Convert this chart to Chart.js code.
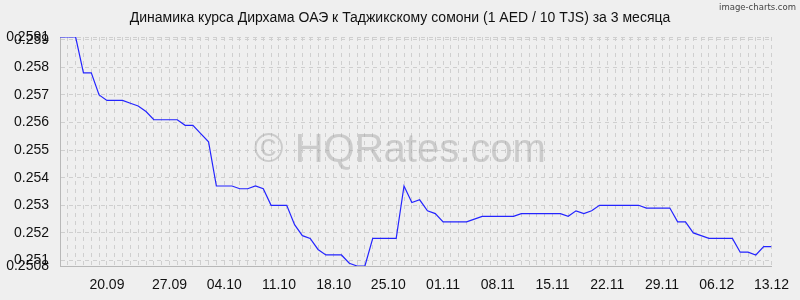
<!DOCTYPE html>
<html>
<head>
<meta charset="utf-8">
<script src="https://cdn.jsdelivr.net/npm/chart.js@4"></script>
<style>
  html, body { margin: 0; padding: 0; background: #efefef; }
  #wrap { width: 800px; height: 300px; }
</style>
</head>
<body>
<div id="wrap"><canvas id="chart" width="800" height="300"></canvas></div>
<script>
// daily AED/TJS rate (1 AED / 10 TJS), 92 points
const rates = [
  0.2591, 0.2591, 0.2591, 0.2578, 0.2578, 0.2570, 0.2568, 0.2568, 0.2568, 0.2567,
  0.2566, 0.2564, 0.2561, 0.2561, 0.2561, 0.2561, 0.2559, 0.2559, 0.2556, 0.2553,
  0.2537, 0.2537, 0.2537, 0.2536, 0.2536, 0.2537, 0.2536, 0.2530, 0.2530, 0.2530,
  0.2523, 0.2519, 0.2518, 0.2514, 0.2512, 0.2512, 0.2512, 0.2509, 0.2508, 0.2508,
  0.2518, 0.2518, 0.2518, 0.2518, 0.2537, 0.2531, 0.2532, 0.2528, 0.2527, 0.2524,
  0.2524, 0.2524, 0.2524, 0.2525, 0.2526, 0.2526, 0.2526, 0.2526, 0.2526, 0.2527,
  0.2527, 0.2527, 0.2527, 0.2527, 0.2527, 0.2526, 0.2528, 0.2527, 0.2528, 0.2530,
  0.2530, 0.2530, 0.2530, 0.2530, 0.2530, 0.2529, 0.2529, 0.2529, 0.2529, 0.2524,
  0.2524, 0.2520, 0.2519, 0.2518, 0.2518, 0.2518, 0.2518, 0.2513, 0.2513, 0.2512,
  0.2515, 0.2515
];

// x tick labels and the day index they sit on
const dateLabels = ["20.09", "27.09", "04.10", "11.10", "18.10", "25.10", "01.11",
                    "08.11", "15.11", "22.11", "29.11", "06.12", "13.12"];
const dateIndex = [6, 14, 21, 28, 35, 42, 49, 56, 63, 70, 77, 84, 91];

const yTicks = [0.2508, 0.251, 0.252, 0.253, 0.254, 0.255, 0.256, 0.257, 0.258, 0.259, 0.2591];

const titleText = "Динамика курса Дирхама ОАЭ к Таджикскому сомони (1 AED / 10 TJS) за 3 месяца";

const gridColor = "#cfcfcf";
const labelFont = { family: "'Liberation Sans', Arial, sans-serif", size: 14 };

const backdrop = {
  id: "backdrop",
  beforeDraw(chart) {
    const ctx = chart.ctx;
    ctx.save();
    ctx.fillStyle = "#efefef";
    ctx.fillRect(0, 0, chart.width, chart.height);
    // title, centred on the whole picture
    ctx.font = "14px 'Liberation Sans', Arial, sans-serif";
    ctx.fillStyle = "#111";
    ctx.textAlign = "center";
    ctx.textBaseline = "middle";
    ctx.fillText(titleText, 400, 18.5);
    ctx.restore();
  },
  beforeDatasetsDraw(chart) {
    const ctx = chart.ctx;
    ctx.save();
    ctx.font = "40px 'Liberation Sans', Arial, sans-serif";
    ctx.fillStyle = "rgba(160,160,160,0.45)";
    ctx.textAlign = "center";
    ctx.textBaseline = "alphabetic";
    ctx.fillText("© HQRates.com", 400, 162);
    ctx.restore();
  },
  afterDraw(chart) {
    const ctx = chart.ctx;
    ctx.save();
    ctx.font = "8.5px 'DejaVu Sans', sans-serif";
    ctx.fillStyle = "#444";
    ctx.textAlign = "right";
    ctx.textBaseline = "top";
    ctx.fillText("image-charts.com", 796, 4);
    ctx.restore();
  },
};

new Chart(document.getElementById("chart").getContext("2d"), {
  type: "line",
  data: {
    datasets: [
      {
        data: rates.map((v, i) => ({ x: i, y: v })),
        borderColor: "#2424ff",
        borderWidth: 1.2,
        pointRadius: 0,
        tension: 0,
        fill: false,
      },
    ],
  },
  options: {
    responsive: false,
    animation: false,
    layout: { padding: { left: 0, right: 21, top: 37, bottom: 0 } },
    plugins: {
      legend: { display: false },
      tooltip: { enabled: false },
      title: { display: false },
    },
    scales: {
      x: {
        type: "linear",
        min: 0,
        max: rates.length - 1,
        afterFit: (scale) => { scale.height = 34; },
        afterBuildTicks: (scale) => {
          scale.ticks = rates.map((v, i) => ({ value: i }));
        },
        ticks: {
          autoSkip: false,
          maxRotation: 0,
          padding: 11,
          color: "#111",
          font: labelFont,
          callback: (v) => {
            const k = dateIndex.indexOf(v);
            return k >= 0 ? dateLabels[k] : "";
          },
        },
        grid: { color: gridColor, drawTicks: false },
        border: { display: true, color: "#b8b8b8", dash: [4, 4] },
      },
      y: {
        min: yTicks[0],
        max: yTicks[yTicks.length - 1],
        afterFit: (scale) => { scale.width = 60; },
        afterBuildTicks: (scale) => {
          scale.ticks = yTicks.map((v) => ({ value: v }));
        },
        ticks: {
          autoSkip: false,
          padding: 11,
          color: "#111",
          font: labelFont,
          callback: (v) => String(v),
        },
        grid: { color: gridColor, drawTicks: false },
        border: { display: true, color: "#b8b8b8", dash: [4, 4] },
      },
    },
  },
  plugins: [backdrop],
});
</script>
</body>
</html>
